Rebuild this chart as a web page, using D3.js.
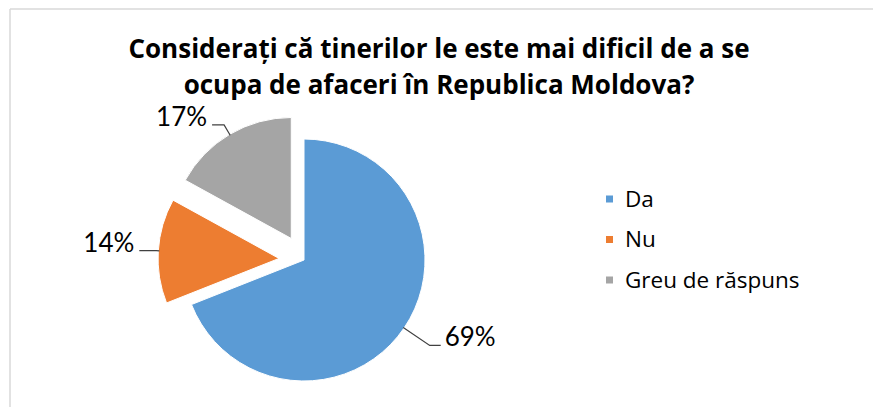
<!DOCTYPE html>
<html>

<head>
    <meta charset="utf-8">
    <title>pie chart - afaceri</title>
    <style>
        body {
            margin: 0;
            background: #fff;
        }

        svg {
            display: block;
            font-family: Lato, "Noto Sans", sans-serif;
        }

        .title {
            font-family: "Open Sans", sans-serif;
            font-size: 26px;
            font-weight: bold;
            fill: #000;
        }

        .label {
            font-size: 26px;
            fill: #000;
        }

        .legend text {
            font-family: "Open Sans", sans-serif;
            font-size: 22.5px;
            fill: #000;
        }
    </style>
    <script src="https://cdn.jsdelivr.net/npm/d3@7"></script>
</head>

<body>
</body>
<script>
    var categories = ["Da", "Nu", "Greu de răspuns"];
    var values = [69, 14, 17];
    var colors = ["#5B9BD5", "#ED7D31", "#A5A5A5"];
    var titleLines = ["Considerați că tinerilor le este mai dificil de a se",
        "ocupa de afaceri în Republica Moldova?"];

    var width = 873,
        height = 407;
    var cx = 304,
        cy = 260,
        radius = 121;
    var explode = 25; // offset for Nu and Greu de răspuns

    var data = categories.map(function(c, i) {
        return { name: c, value: values[i], color: colors[i], exploded: i > 0 };
    });

    var svg = d3.select("body").append("svg")
        .attr("width", width)
        .attr("height", height);

    // chart area border (top and left visible)
    svg.append("line")
        .attr("x1", 10).attr("y1", 9).attr("x2", width).attr("y2", 9)
        .attr("stroke", "#d9d9d9").attr("stroke-width", 1.5);
    svg.append("line")
        .attr("x1", 10).attr("y1", 9).attr("x2", 10).attr("y2", height)
        .attr("stroke", "#d9d9d9").attr("stroke-width", 1.5);

    svg.selectAll(".title")
        .data(titleLines)
        .enter()
        .append("text")
        .attr("class", "title")
        .attr("x", 439)
        .attr("y", function(d, i) { return 58 + i * 36; })
        .attr("text-anchor", "middle")
        .text(function(d) { return d; });

    var pie = d3.pie()
        .sort(null)
        .value(function(d) { return d.value; });

    var arc = d3.arc()
        .innerRadius(0)
        .outerRadius(radius);

    var arcs = pie(data);

    function offset(d) {
        var a = (d.startAngle + d.endAngle) / 2;
        var k = d.data.exploded ? explode : 0;
        return [Math.sin(a) * k, -Math.cos(a) * k];
    }

    var g = svg.append("g")
        .attr("transform", "translate(" + cx + "," + cy + ")");

    g.selectAll(".slice")
        .data(arcs)
        .enter()
        .append("path")
        .attr("class", "slice")
        .attr("transform", function(d) {
            var o = offset(d);
            return "translate(" + o[0] + "," + o[1] + ")";
        })
        .attr("d", arc)
        .attr("fill", function(d) { return d.data.color; })
        .attr("stroke", "#fff")
        .attr("stroke-width", 1);

    // leader lines + labels
    var lead = {
        "Da": { r2: 152, run: 11 },
        "Nu": { r2: 123, run: 17 },
        "Greu de răspuns": { r2: 132, run: 12 }
    };

    arcs.forEach(function(d) {
        var a = (d.startAngle + d.endAngle) / 2;
        var o = offset(d);
        var s = lead[d.data.name];
        var p1 = [o[0] + Math.sin(a) * (radius - 1), o[1] - Math.cos(a) * (radius - 1)];
        var p2 = [o[0] + Math.sin(a) * s.r2, o[1] - Math.cos(a) * s.r2];
        var right = Math.sin(a) > 0;
        var p3 = [p2[0] + (right ? s.run : -s.run), p2[1]];

        g.append("polyline")
            .attr("points", [p1, p2, p3].map(function(p) { return p.join(","); }).join(" "))
            .attr("fill", "none")
            .attr("stroke", "#404040")
            .attr("stroke-width", 1.2);

        g.append("text")
            .attr("class", "label")
            .attr("x", p3[0] + (right ? 4 : -5))
            .attr("y", p3[1] + 1)
            .attr("text-anchor", right ? "start" : "end")
            .text(d.data.value + "%");
    });

    // legend
    var legend = svg.append("g")
        .attr("class", "legend")
        .attr("transform", "translate(606,199)");

    var item = legend.selectAll("g")
        .data(data)
        .enter()
        .append("g")
        .attr("transform", function(d, i) { return "translate(0," + i * 40.5 + ")"; });

    item.append("rect")
        .attr("x", 0)
        .attr("y", -3.5)
        .attr("width", 7)
        .attr("height", 7)
        .attr("fill", function(d) { return d.color; });

    item.append("text")
        .attr("x", 19)
        .attr("y", 7.5)
        .text(function(d) { return d.name; });
</script>

</html>
